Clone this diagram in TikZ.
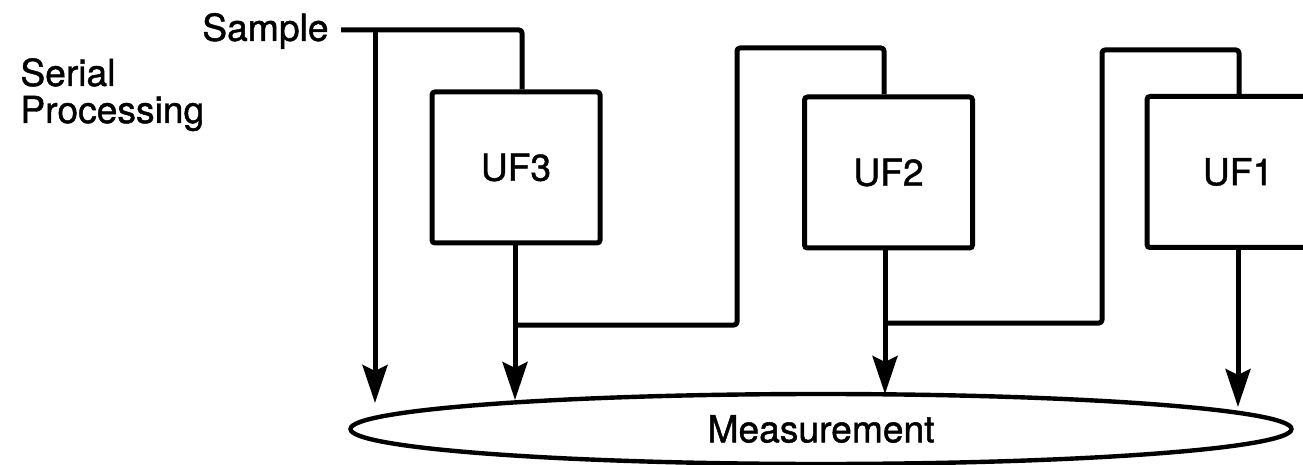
\documentclass[tikz,border=0pt]{standalone}
\usepackage{fontspec}
\setmainfont{TeX Gyre Heros}[FakeBold=1.2]
\usetikzlibrary{arrows.meta,shapes.geometric}
\begin{document}
\begin{tikzpicture}[x=0.5pt,y=-0.5pt,
  flow/.style={line width=2.5pt, rounded corners=1.5pt, line join=round},
  tip/.style={-{Stealth[length=19pt,width=12.5pt,inset=3pt]}},
  txt/.style={font=\fontsize{18.6}{14.5}\selectfont, inner sep=0pt},
  ufbox/.style={draw, line width=2.5pt, rounded corners=1.5pt,
    minimum width=84pt, minimum height=75.5pt, inner sep=0pt, txt}]
\useasboundingbox (0,0) rectangle (1303,465);
\clip (0,0) rectangle (1303,465);

% labels
\node[txt, anchor=base west] (serial) at (20,86) {Serial};
\node[txt, anchor=base west] (processing) at (20,123) {Processing};
\node[txt, anchor=east] (sample) at (329,31) {Sample};

% ultrafiltration stages
\node[ufbox] (uf3) at (516,167.5) {UF3};
\node[ufbox] (uf2) at (888.5,172.5) {UF2};
\node[ufbox, minimum width=91pt] (uf1) at (1238,172) {UF1};

% measurement
\node[draw, ellipse, line width=2.2pt, minimum width=470.5pt, minimum height=35pt,
  inner sep=0pt, txt] (meas) at (821,429) {Measurement};

% arrow end points on / above the measurement
\coordinate (tap) at (375,30);
\coordinate (t0) at (375,403);
\coordinate (t3) at (515,400);
\coordinate (t2) at (885,394);
\coordinate (t1) at (1238,407);

% sample feed
\draw[flow] ([xshift=6pt]sample.east |- tap) -- (522,30) -- (uf3.north -| 522,0);
\draw[flow, tip] (tap) -- (t0);

% UF3 permeate
\draw[flow, tip] (uf3.south -| t3) -- (t3);
\draw[flow] (515,325) -- (737,325) -- (737,48) -- (884,48) -- (uf2.north -| 884,0);

% UF2 permeate
\draw[flow, tip] (uf2.south -| t2) -- (t2);
\draw[flow] (885,323) -- (1102,323) -- (1102,50) -- (1239,50) -- (uf1.north -| 1239,0);

% UF1 permeate
\draw[flow, tip] (uf1.south -| t1) -- (t1);
\end{tikzpicture}
\end{document}
